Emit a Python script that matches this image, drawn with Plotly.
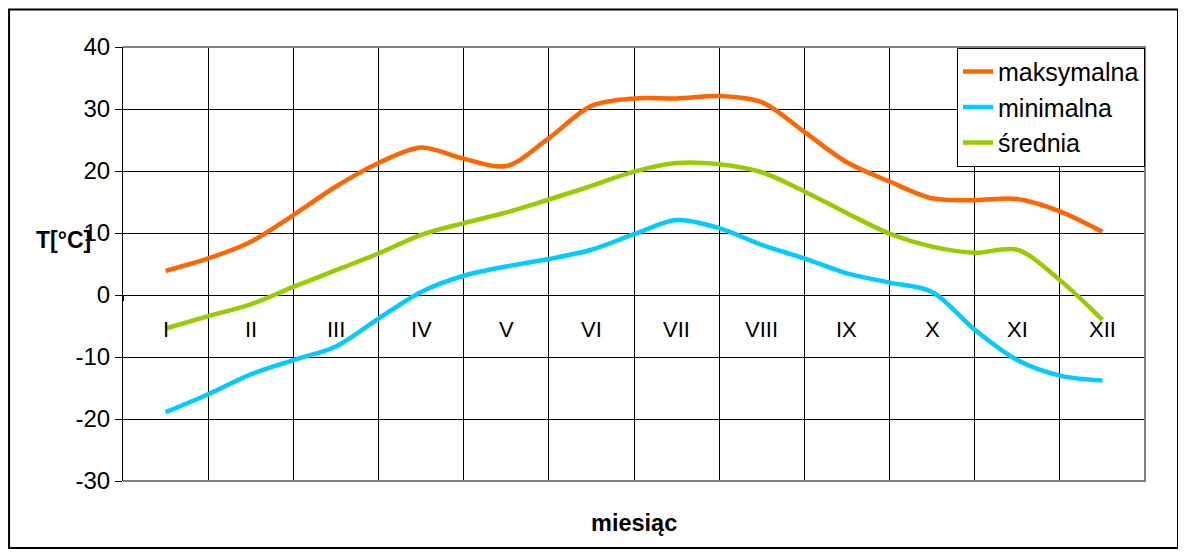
import plotly.graph_objects as go

# --- data ---
miesiace = ["I", "II", "III", "IV", "V", "VI", "VII", "VIII", "IX", "X", "XI", "XII"]
pozycja_miesiaca = [1, 2, 3, 4, 5, 6, 7, 8, 9, 10, 11, 12]
pozycja = [1, 1.5, 2, 2.5, 3, 3.5, 4, 4.5, 5, 5.5, 6, 6.5, 7, 7.5, 8, 8.5,
           9, 9.5, 10, 10.5, 11, 11.5, 12]
maksymalna = [3.9, 5.9, 8.6, 12.9, 17.5, 21.3, 23.8, 22.0, 20.8, 25.3, 30.5, 31.7,
              31.7, 32.1, 31.1, 26.3, 21.4, 18.3, 15.6, 15.3, 15.5, 13.5, 10.2]
minimalna = [-18.9, -16.0, -12.8, -10.5, -8.3, -3.8, 0.5, 3.1, 4.6, 5.8, 7.3, 9.8,
             12.1, 10.8, 8.1, 5.9, 3.5, 2.0, 0.5, -5.6, -10.5, -13.0, -13.8]
srednia = [-5.4, -3.4, -1.5, 1.3, 4.0, 6.7, 9.7, 11.6, 13.3, 15.4, 17.6, 19.9,
           21.3, 21.1, 19.8, 16.7, 13.2, 9.9, 7.8, 6.8, 7.3, 2.4, -4.0]
granice = [0.5, 1.5, 2.5, 3.5, 4.5, 5.5, 6.5, 7.5, 8.5, 9.5, 10.5, 11.5, 12.5]
y_ticks = [-30, -20, -10, 0, 10, 20, 30, 40]
y_tick_text = ["-30", "-20", "-10", "0", "10", "20", "30", "40"]

FONT = "Liberation Sans, Arial, sans-serif"

fig = go.Figure()
for name, vals, col in [("maksymalna", maksymalna, "#FF6600"),
                        ("minimalna", minimalna, "#00CCFF"),
                        ("średnia", srednia, "#99CC00")]:
    fig.add_trace(go.Scatter(x=pozycja, y=vals, name=name, mode="lines",
                             line=dict(color=col, width=4.5, shape="spline", smoothing=0.9)))

# invisible trace to host a second x axis for the category tick marks at y=0
fig.add_trace(go.Scatter(x=[granice[0], granice[-1]], y=[0, 0], xaxis="x2", yaxis="y",
                         mode="lines", line=dict(width=0), showlegend=False, hoverinfo="skip"))

annotations = []
for m, p in zip(miesiace, pozycja_miesiaca):
    annotations.append(dict(x=p, y=-5.6, xref="x", yref="y", text=m, showarrow=False,
                            font=dict(family=FONT, size=22, color="black"),
                            xanchor="center", yanchor="middle"))
annotations.append(dict(x=-0.0587, y=0.555, xref="paper", yref="paper", text="<b>T[°C]</b>",
                        showarrow=False, font=dict(family=FONT, size=23, color="black"),
                        xanchor="center", yanchor="middle"))
annotations.append(dict(x=0.5, y=-0.097, xref="paper", yref="paper", text="<b>miesiąc</b>",
                        showarrow=False, font=dict(family=FONT, size=23.5, color="black"),
                        xanchor="center", yanchor="middle"))

shapes = [
    # plot frame (top, right, bottom) in gray
    dict(type="path", xref="paper", yref="paper", path="M 0,1 L 1,1 L 1,0 L 0,0",
         line=dict(color="#808080", width=2), layer="above"),
    # outer chart border
    dict(type="rect", xref="paper", yref="paper", x0=-0.1115, x1=1.0323, y0=-0.1544, y1=1.0865,
         line=dict(color="black", width=2), layer="above"),
]

fig.update_layout(
    width=1178, height=547,
    margin=dict(l=115, r=41, t=39, b=74),
    paper_bgcolor="white", plot_bgcolor="white",
    font=dict(family=FONT, size=22, color="black"),
    showlegend=True,
    legend=dict(x=1.0, y=0.998, xanchor="right", yanchor="top",
                bgcolor="white", bordercolor="black", borderwidth=1,
                font=dict(family=FONT, size=25, color="black"),
                tracegroupgap=0),
    xaxis=dict(range=[0.5, 12.5], tickvals=granice, showticklabels=False, ticks="",
               showgrid=True, gridcolor="black", gridwidth=1, zeroline=False,
               showline=False, fixedrange=True),
    xaxis2=dict(range=[0.5, 12.5], overlaying="x", anchor="free", position=30 / 70,
                side="bottom", tickvals=granice, showticklabels=False, ticks="outside",
                ticklen=5, tickcolor="black", tickwidth=1, showgrid=False, zeroline=False,
                showline=False),
    yaxis=dict(range=[-30, 40], tickvals=y_ticks, ticktext=y_tick_text, ticks="outside",
               ticklen=7, tickcolor="black", tickwidth=1, showline=True, linecolor="black",
               linewidth=1, showgrid=True, gridcolor="black", gridwidth=1,
               zeroline=False, tickfont=dict(family=FONT, size=24, color="black")),
    annotations=annotations,
    shapes=shapes,
)

fig.write_html("out.html")
